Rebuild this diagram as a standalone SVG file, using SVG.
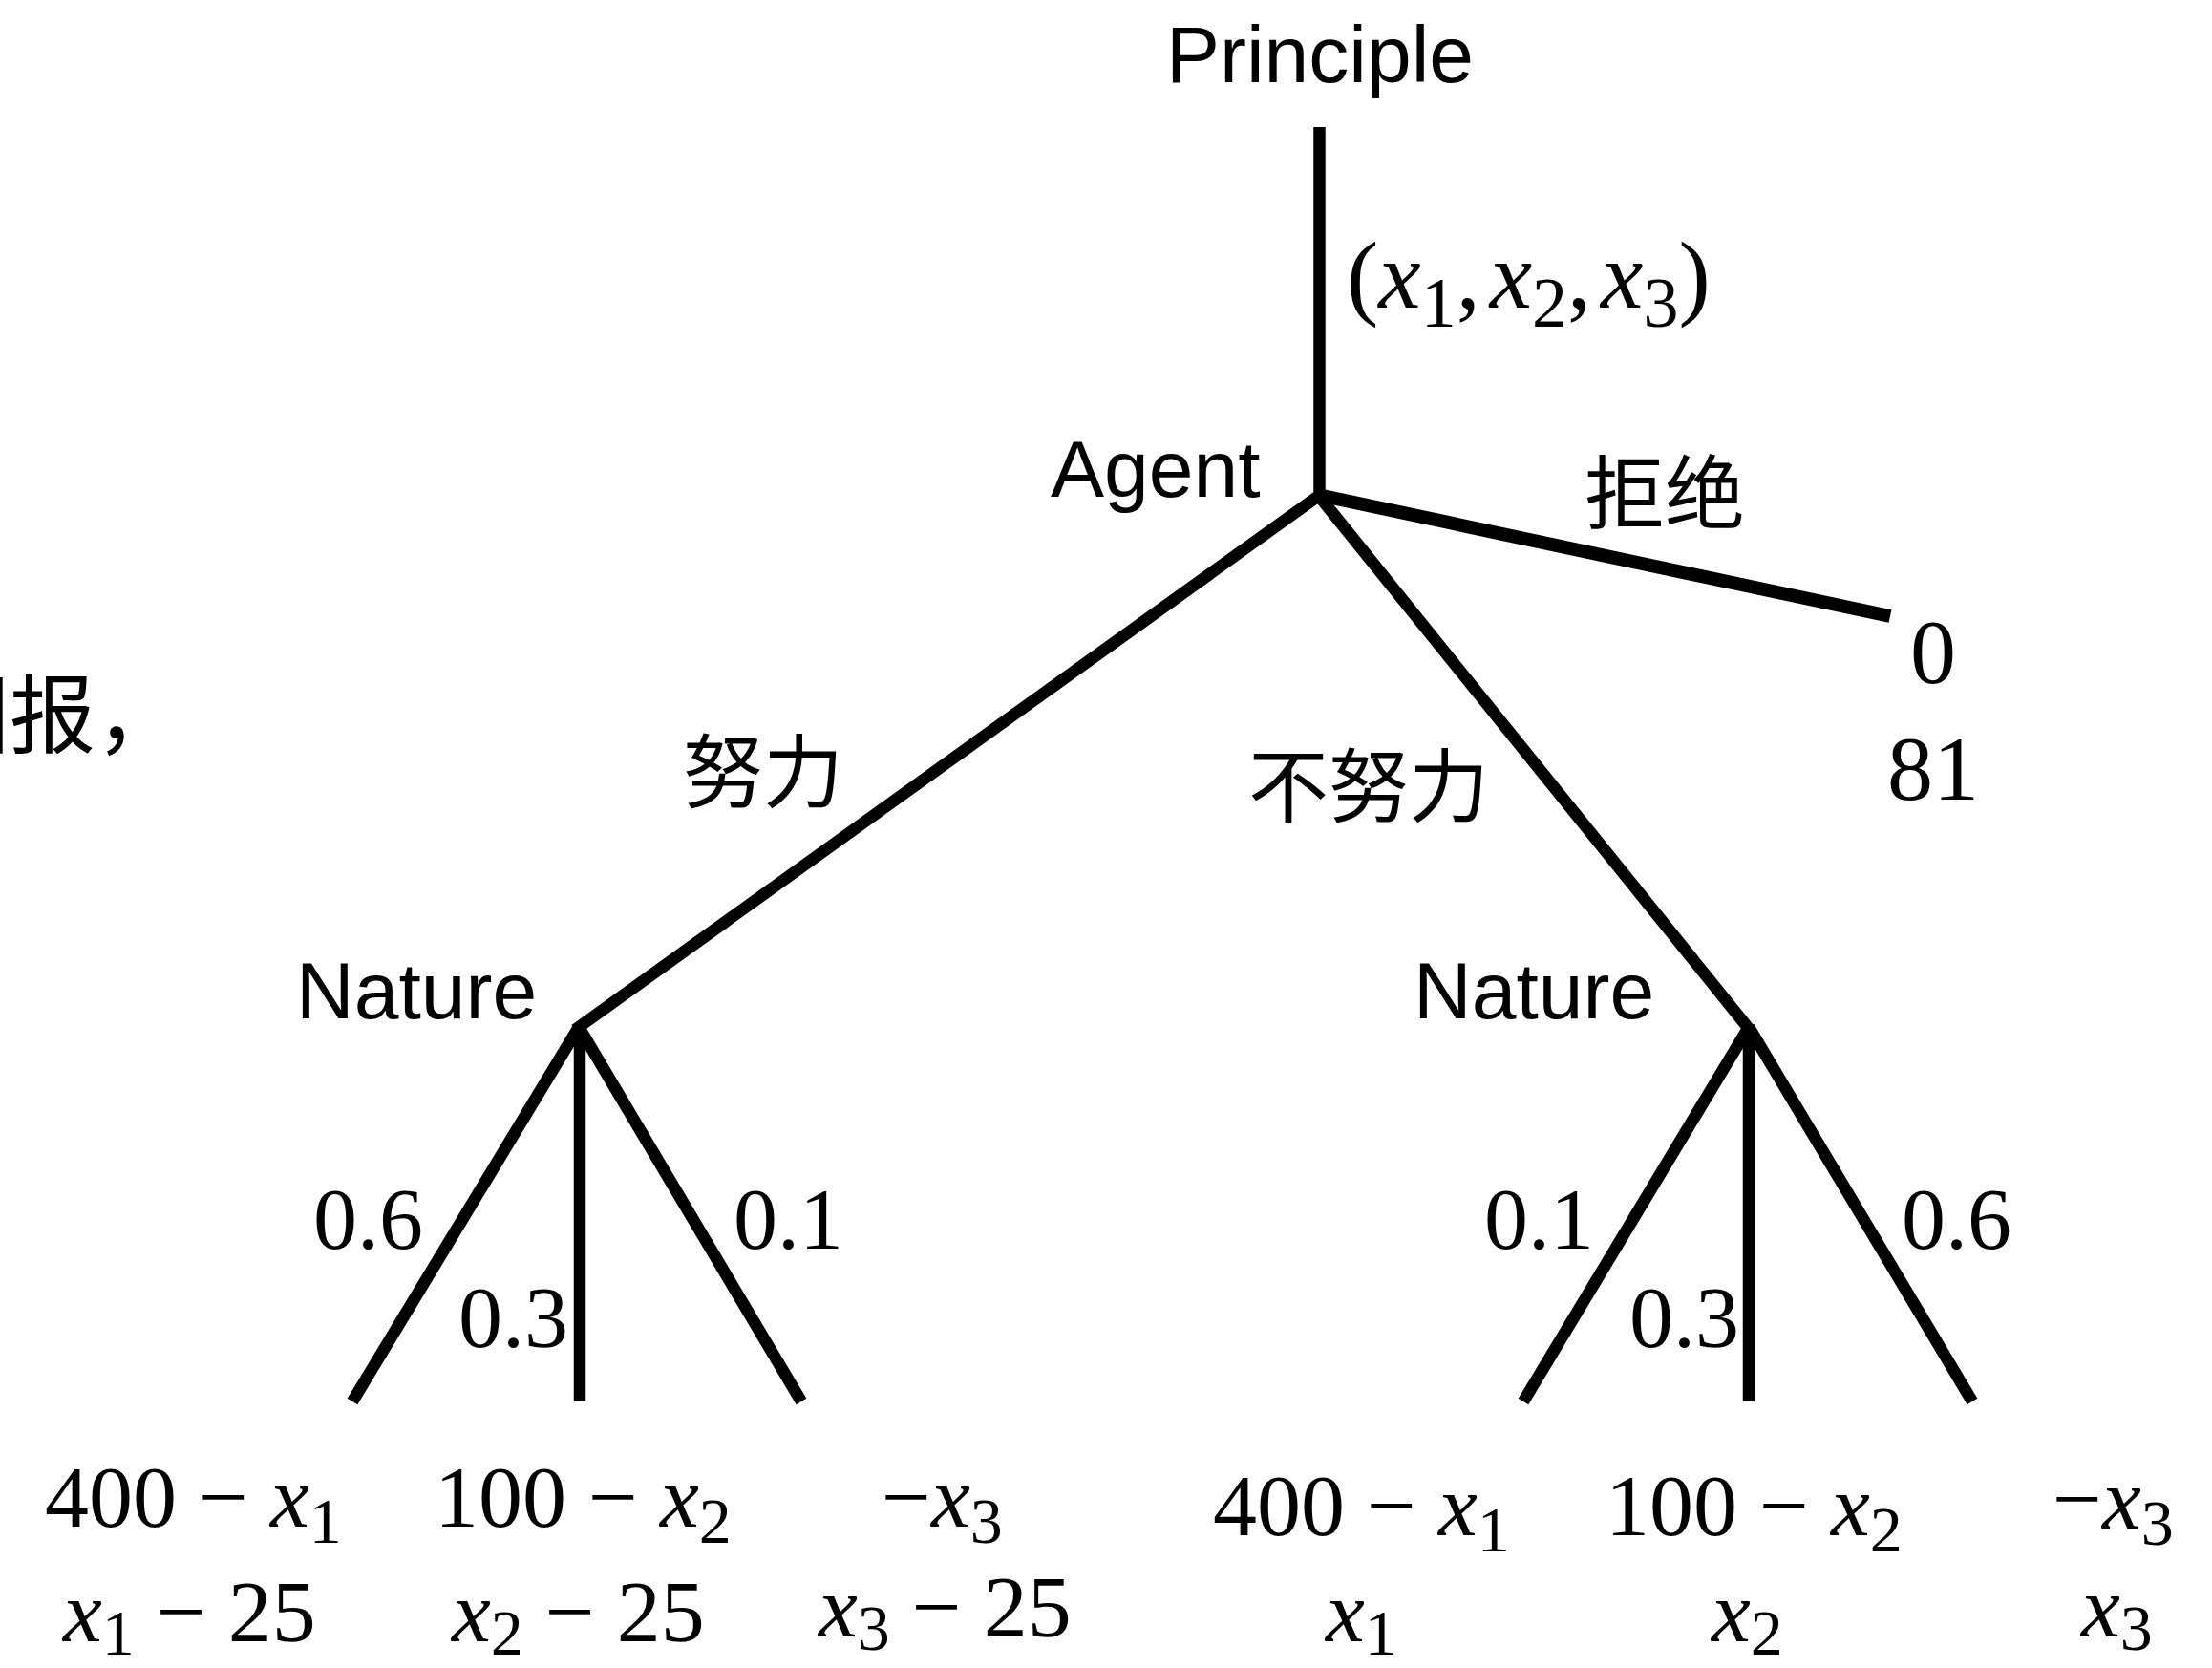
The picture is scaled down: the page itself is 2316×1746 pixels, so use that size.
<svg xmlns="http://www.w3.org/2000/svg" width="2316" height="1746" viewBox="0 0 2316 1746">
<style>
.sans{font-family:"Liberation Sans",Arial,sans-serif;font-size:84px;fill:#000}
.cjk{font-family:"Noto Sans CJK SC","Noto Sans",sans-serif;font-size:84px;fill:#000}
.m{font-family:"Liberation Serif","Times New Roman",serif;font-size:92px;fill:#000}
.i{font-style:italic}
.sub{font-size:68px}
.e{stroke:#000;stroke-width:12.5;fill:none;stroke-linecap:butt}
</style>
<rect width="2316" height="1746" fill="#fff"/>
<g id="connectors">
<line class="e" x1="1381.5" y1="133" x2="1381.5" y2="521"/>
<line class="e" x1="1380" y1="518" x2="1979" y2="645" style="stroke-width:14"/>
<line class="e" x1="1382" y1="518" x2="602" y2="1078"/>
<line class="e" x1="1380" y1="518" x2="1832" y2="1078"/>
<line class="e" x1="606" y1="1075" x2="369" y2="1467"/>
<line class="e" x1="607" y1="1078" x2="607" y2="1467"/>
<line class="e" x1="606" y1="1075" x2="839" y2="1467"/>
<line class="e" x1="1831" y1="1075" x2="1595" y2="1467"/>
<line class="e" x1="1831" y1="1078" x2="1831" y2="1467"/>
<line class="e" x1="1831" y1="1075" x2="2065" y2="1467"/>
</g>
<g id="edge-labels">
<text class="m" x="1410" y="322" style="font-size:100px">(<tspan class="i">x</tspan><tspan dy="20" style="font-size:74px">1</tspan><tspan dy="-20">,</tspan><tspan class="i" dx="10">x</tspan><tspan dy="20" style="font-size:74px">2</tspan><tspan dy="-20">,</tspan><tspan class="i" dx="10">x</tspan><tspan dy="20" style="font-size:74px">3</tspan><tspan dy="-20">)</tspan></text>
<text class="cjk" x="1659" y="547">拒绝</text>
<text class="cjk" x="715" y="839">努力</text>
<text class="cjk" x="1307" y="854">不努力</text>
<text class="m" x="328" y="1307">0.6</text>
<text class="m" x="480" y="1410">0.3</text>
<text class="m" x="768" y="1307">0.1</text>
<text class="m" x="1554" y="1307">0.1</text>
<text class="m" x="1706" y="1410">0.3</text>
<text class="m" x="1991" y="1307">0.6</text>
</g>
<g id="node-principle"><text class="sans" x="1382" y="86" text-anchor="middle">Principle</text></g>
<g id="node-agent"><text class="sans" x="1100" y="520">Agent</text></g>
<g id="node-reject"><text class="m" x="2024" y="715" text-anchor="middle" style="font-size:96px">0</text><text class="m" x="2024" y="837" text-anchor="middle" style="font-size:96px">81</text></g>
<g id="node-nature-left"><text class="sans" x="310" y="1066">Nature</text></g>
<g id="node-nature-right"><text class="sans" x="1480" y="1066">Nature</text></g>
<g id="leaf-l1">
<text class="m" x="47" y="1598">400 − <tspan class="i">x</tspan><tspan class="sub" dy="17">1</tspan></text>
<text class="m" x="66" y="1718"><tspan class="i">x</tspan><tspan class="sub" dy="14">1</tspan><tspan dy="-14"> − 25</tspan></text>
</g>
<g id="leaf-l2">
<text class="m" x="455" y="1598">100 − <tspan class="i">x</tspan><tspan class="sub" dy="17">2</tspan></text>
<text class="m" x="473" y="1718"><tspan class="i">x</tspan><tspan class="sub" dy="14">2</tspan><tspan dy="-14"> − 25</tspan></text>
</g>
<g id="leaf-l3">
<text class="m" x="923" y="1598">−<tspan class="i">x</tspan><tspan class="sub" dy="17">3</tspan></text>
<text class="m" x="857" y="1713"><tspan class="i">x</tspan><tspan class="sub" dy="14">3</tspan><tspan dy="-14"> − 25</tspan></text>
</g>
<g id="leaf-r1">
<text class="m" x="1270" y="1607">400 − <tspan class="i">x</tspan><tspan class="sub" dy="17">1</tspan></text>
<text class="m" x="1388" y="1718"><tspan class="i">x</tspan><tspan class="sub" dy="14">1</tspan></text>
</g>
<g id="leaf-r2">
<text class="m" x="1681" y="1607">100 − <tspan class="i">x</tspan><tspan class="sub" dy="17">2</tspan></text>
<text class="m" x="1792" y="1718"><tspan class="i">x</tspan><tspan class="sub" dy="14">2</tspan></text>
</g>
<g id="leaf-r3">
<text class="m" x="2149" y="1600">−<tspan class="i">x</tspan><tspan class="sub" dy="17">3</tspan></text>
<text class="m" x="2179" y="1713"><tspan class="i">x</tspan><tspan class="sub" dy="14">3</tspan></text>
</g>
<g id="side-text"><text class="cjk" x="-80" y="781" style="font-size:90px">回报，</text></g>
</svg>
